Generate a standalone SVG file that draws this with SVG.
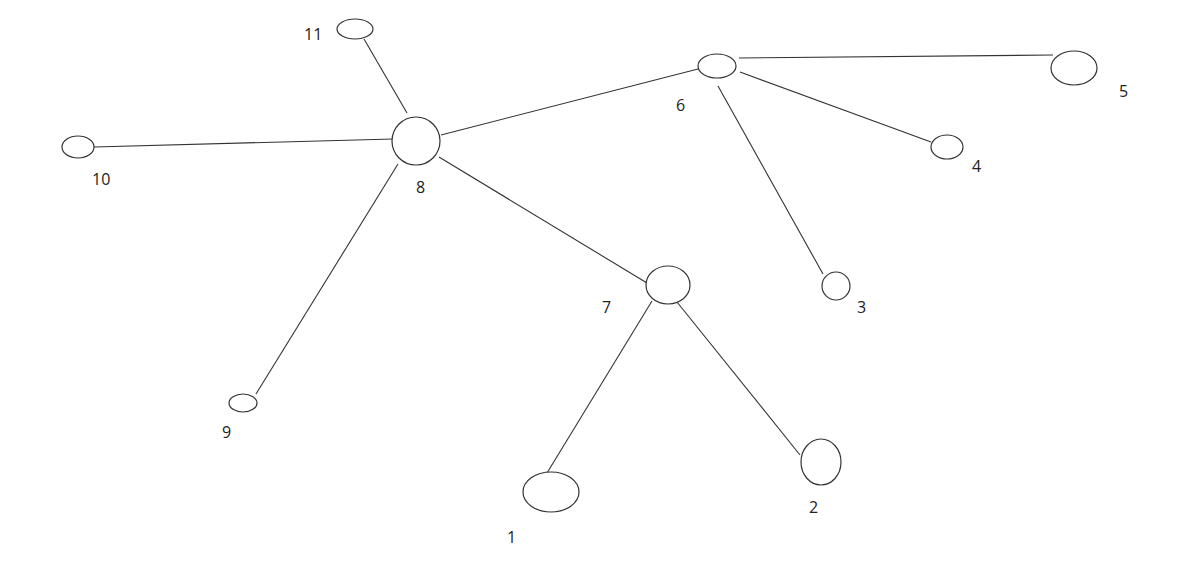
<svg xmlns="http://www.w3.org/2000/svg" width="1180" height="570" viewBox="0 0 1180 570">
<style>
.n{fill:#fff;stroke:#333;stroke-width:1.2}
.e{stroke:#333;stroke-width:1.1;fill:none}
.t{font-family:"Open Sans","Liberation Sans",sans-serif;font-size:16px;fill:#222}
</style>
<rect width="1180" height="570" fill="#fff"/>
<g id="connectors">
<line class="e" x1="364" y1="39" x2="407" y2="113"/>
<line class="e" x1="94" y1="147" x2="393" y2="139"/>
<line class="e" x1="441" y1="135" x2="698" y2="69"/>
<line class="e" x1="439" y1="157" x2="647" y2="283"/>
<line class="e" x1="398" y1="164" x2="256" y2="394"/>
<line class="e" x1="739" y1="58" x2="1053" y2="55"/>
<line class="e" x1="740" y1="72" x2="931" y2="142"/>
<line class="e" x1="718" y1="86" x2="823" y2="274"/>
<line class="e" x1="652" y1="301" x2="547" y2="473"/>
<line class="e" x1="677" y1="302" x2="800" y2="455"/>
</g>
<g id="node11"><ellipse class="n" cx="355" cy="29" rx="18" ry="10"/><text class="t" x="304" y="40">11</text></g>
<g id="node8"><circle class="n" cx="416" cy="141" r="24"/><text class="t" x="416" y="193">8</text></g>
<g id="node10"><ellipse class="n" cx="78" cy="147" rx="16" ry="11"/><text class="t" x="92" y="185">10</text></g>
<g id="node6"><ellipse class="n" cx="717" cy="66" rx="19" ry="12"/><text class="t" x="676" y="111">6</text></g>
<g id="node5"><ellipse class="n" cx="1074" cy="68" rx="23" ry="17"/><text class="t" x="1119" y="97">5</text></g>
<g id="node4"><ellipse class="n" cx="947" cy="147" rx="16" ry="12"/><text class="t" x="972" y="172">4</text></g>
<g id="node3"><ellipse class="n" cx="836" cy="286" rx="14" ry="14"/><text class="t" x="857" y="313">3</text></g>
<g id="node7"><ellipse class="n" cx="668" cy="285" rx="22" ry="19"/><text class="t" x="602" y="313">7</text></g>
<g id="node1"><ellipse class="n" cx="551" cy="492" rx="28" ry="20"/><text class="t" x="507" y="543">1</text></g>
<g id="node2"><ellipse class="n" cx="821" cy="462" rx="20" ry="23"/><text class="t" x="809" y="513">2</text></g>
<g id="node9"><ellipse class="n" cx="243" cy="403" rx="14" ry="9"/><text class="t" x="222" y="438">9</text></g>
</svg>
